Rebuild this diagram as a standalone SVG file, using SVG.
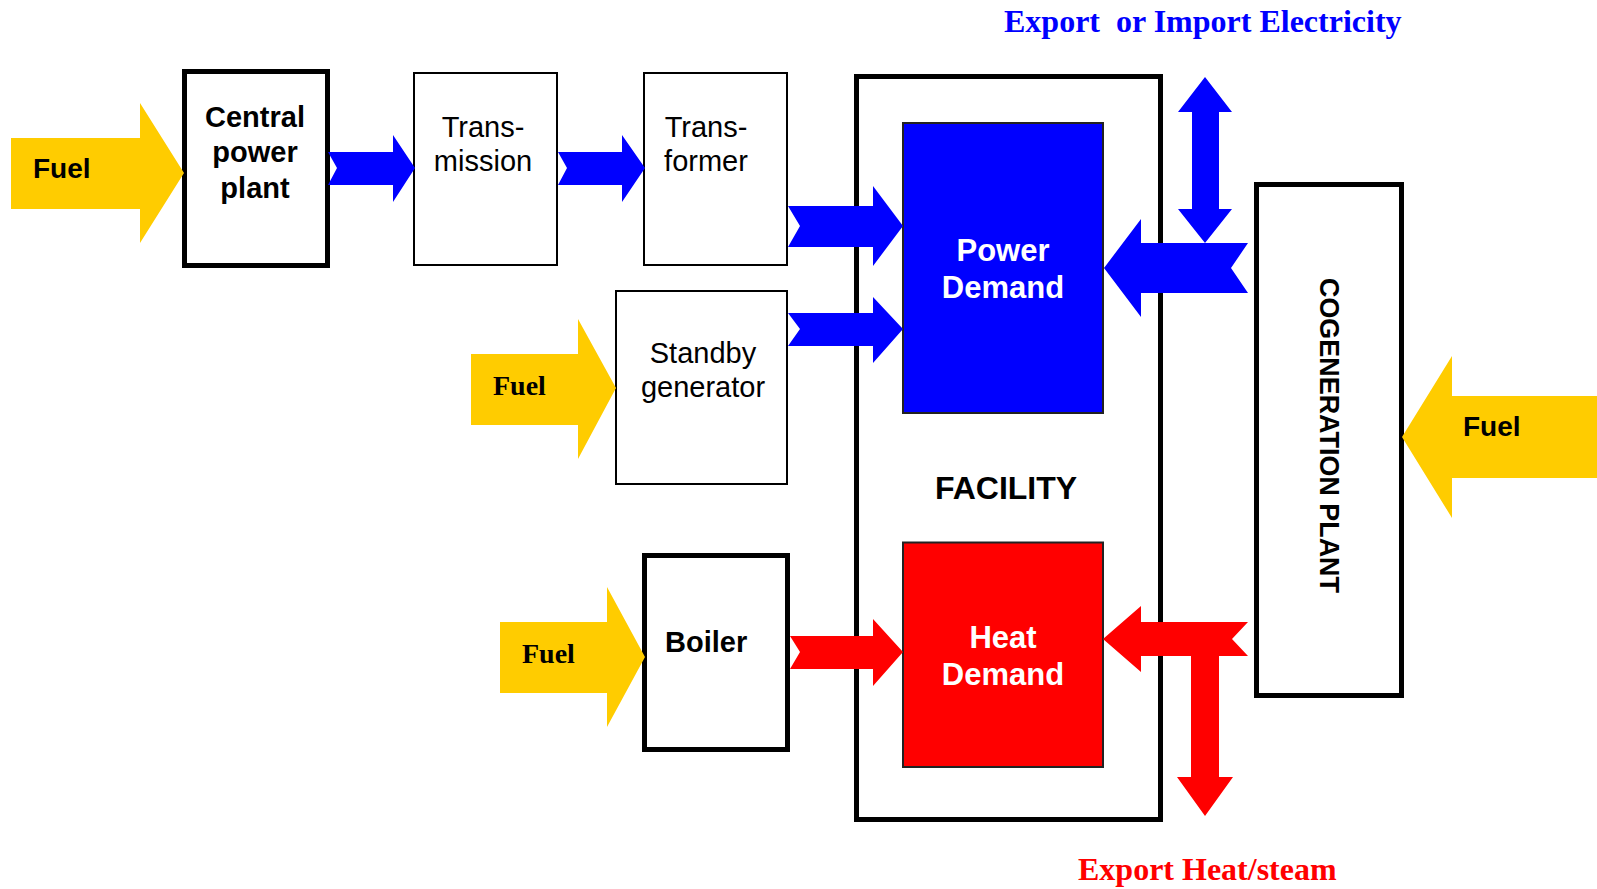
<svg xmlns="http://www.w3.org/2000/svg" width="1597" height="889" viewBox="0 0 1597 889">
<style>
.box{fill:#fff;stroke:#000}
.thick{stroke-width:5}
.thin{stroke-width:2}
.fuel{fill:#FFCC00}
.blue{fill:#0000FF}
.red{fill:#FF0000}
.sans{font-family:"Liberation Sans",Arial,sans-serif}
.serif{font-family:"Liberation Serif","Times New Roman",serif;font-weight:bold}
.b{font-weight:bold}
.c{text-anchor:middle}
</style>
<rect width="1597" height="889" fill="#fff"/>
<g id="facility">
<rect class="box thick" x="856.5" y="76.5" width="304" height="743"/>
<text class="sans b c" x="1006" y="499" font-size="32">FACILITY</text>
</g>
<g id="central-power-plant">
<rect class="box thick" x="184.5" y="71.5" width="143" height="194"/>
<text class="sans b c" x="255" y="127" font-size="29">Central</text>
<text class="sans b c" x="255" y="162" font-size="29">power</text>
<text class="sans b c" x="255" y="198" font-size="29">plant</text>
</g>
<g id="transmission">
<rect class="box thin" x="414" y="73" width="143" height="192"/>
<text class="sans c" x="483" y="137" font-size="29">Trans-</text>
<text class="sans c" x="483" y="171" font-size="29">mission</text>
</g>
<g id="transformer">
<rect class="box thin" x="644" y="73" width="143" height="192"/>
<text class="sans c" x="706" y="137" font-size="29">Trans-</text>
<text class="sans c" x="706" y="171" font-size="29">former</text>
</g>
<g id="standby-generator">
<rect class="box thin" x="616" y="291" width="171" height="193"/>
<text class="sans c" x="703" y="363" font-size="29">Standby</text>
<text class="sans c" x="703" y="397" font-size="29">generator</text>
</g>
<g id="boiler">
<rect class="box thick" x="644.5" y="555.5" width="143" height="194"/>
<text class="sans b" x="665" y="652" font-size="29">Boiler</text>
</g>
<g id="power-demand">
<rect class="blue" x="903" y="123" width="200" height="290" stroke="#222" stroke-width="2"/>
<text class="sans b c" x="1003" y="261" font-size="31" fill="#fff">Power</text>
<text class="sans b c" x="1003" y="298" font-size="31" fill="#fff">Demand</text>
</g>
<g id="heat-demand">
<rect class="red" x="903" y="542.5" width="200" height="224.5" stroke="#222" stroke-width="2"/>
<text class="sans b c" x="1003" y="648" font-size="31" fill="#fff">Heat</text>
<text class="sans b c" x="1003" y="685" font-size="31" fill="#fff">Demand</text>
</g>
<g id="cogeneration-plant">
<rect class="box thick" x="1256.5" y="184.5" width="145" height="511"/>
<text class="sans b c" transform="translate(1320,435.5) rotate(90)" x="0" y="0" font-size="28" textLength="315" lengthAdjust="spacingAndGlyphs">COGENERATION PLANT</text>
</g>
<g id="connectors">
<polygon class="fuel" points="11,138 140,138 140,103 184,173 140,243 140,209 11,209"/>
<polygon class="fuel" points="471,354 578,354 578,319 616,388 578,459 578,425 471,425"/>
<polygon class="fuel" points="500,622 607,622 607,587 645,657 607,727 607,693 500,693"/>
<polygon class="fuel" points="1597,396 1452,396 1452,356 1402,437 1452,518 1452,478 1597,478"/>
<polygon class="blue" points="328,152 393,152 393,135 415,168 393,202 393,185 328,185 337,168"/>
<polygon class="blue" points="558,152 622,152 622,135 645,168 622,202 622,185 558,185 567,168"/>
<polygon class="blue" points="788,206 873,206 873,186 903,226 873,266 873,247 788,247 800,226"/>
<polygon class="blue" points="788,313 873,313 873,297 903,329 873,363 873,346 788,346 800,329"/>
<polygon class="blue" points="1104,268 1141,219 1141,243 1248,243 1231,268 1248,293 1141,293 1141,317"/>
<polygon class="blue" points="1205,77 1232,112 1219,112 1219,209 1232,209 1205,243 1178,209 1192,209 1192,112 1178,112"/>
<polygon class="red" points="790,636 873,636 873,619 903,652 873,686 873,669 790,669 800,652"/>
<polygon class="red" points="1103,639 1141,606 1141,622 1248,622 1232,639 1248,656 1141,656 1141,672"/>
<polygon class="red" points="1191,650 1219,650 1219,777 1233,777 1205,816 1177,777 1191,777"/>
</g>
<g id="labels">
<text class="sans b" x="33" y="178" font-size="28">Fuel</text>
<text class="serif" x="493" y="395" font-size="28">Fuel</text>
<text class="serif" x="522" y="663" font-size="28">Fuel</text>
<text class="sans b" x="1463" y="436" font-size="28">Fuel</text>
<text class="serif" x="1004" y="32" font-size="32" fill="#0000FF" style="white-space:pre">Export  or Import Electricity</text>
<text class="serif" x="1078" y="880" font-size="32" fill="#FF0000">Export Heat/steam</text>
</g>
</svg>
